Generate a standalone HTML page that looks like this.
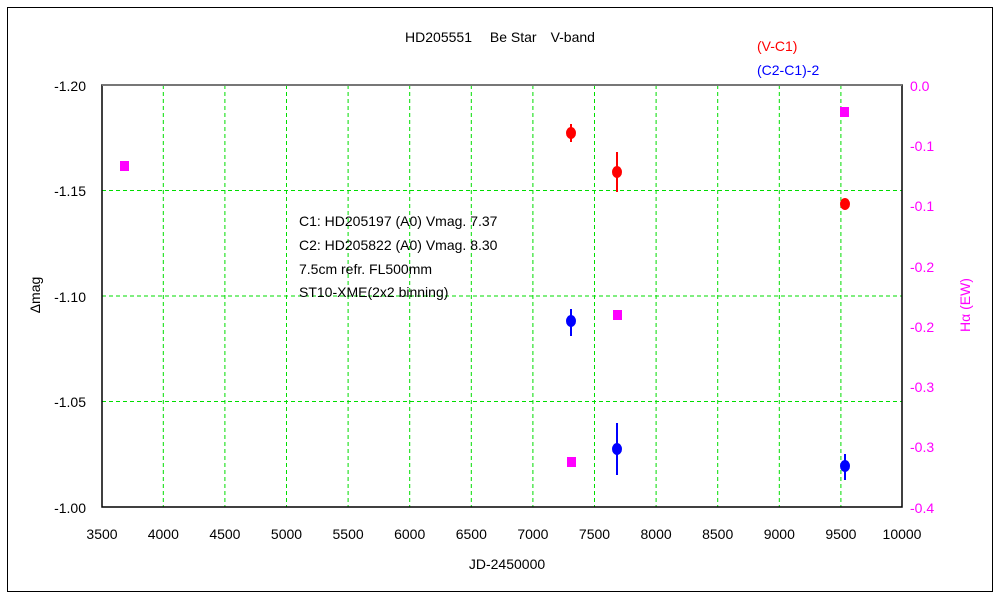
<!DOCTYPE html>
<html><head><meta charset="utf-8"><style>
body{margin:0;background:#fff}
svg text{font-family:"Liberation Sans","Noto Sans CJK JP",sans-serif;font-size:14px}
</style></head><body>
<svg width="1000" height="600" viewBox="0 0 1000 600" xmlns="http://www.w3.org/2000/svg">
<rect x="7.5" y="7.5" width="985" height="584" fill="#fff" stroke="#000" stroke-width="1"/>
<g stroke="#00dd00" stroke-dasharray="4,3" stroke-width="1">
<line x1="163.3" y1="85" x2="163.3" y2="507"/><line x1="224.9" y1="85" x2="224.9" y2="507"/>
<line x1="286.5" y1="85" x2="286.5" y2="507"/><line x1="348.1" y1="85" x2="348.1" y2="507"/>
<line x1="409.7" y1="85" x2="409.7" y2="507"/><line x1="471.3" y1="85" x2="471.3" y2="507"/>
<line x1="532.9" y1="85" x2="532.9" y2="507"/><line x1="594.5" y1="85" x2="594.5" y2="507"/>
<line x1="656.1" y1="85" x2="656.1" y2="507"/><line x1="717.7" y1="85" x2="717.7" y2="507"/>
<line x1="779.3" y1="85" x2="779.3" y2="507"/><line x1="840.9" y1="85" x2="840.9" y2="507"/>
<line x1="102" y1="190.5" x2="902" y2="190.5"/><line x1="102" y1="296" x2="902" y2="296"/>
<line x1="102" y1="401.5" x2="902" y2="401.5"/>
</g>
<rect x="102" y="85" width="800" height="422" fill="none" stroke="#000" stroke-width="1.5"/>
<line x1="102" y1="85" x2="902" y2="85" stroke="#777" stroke-width="2"/>
<g font-size="14" text-anchor="end">
<text x="86" y="91">-1.20</text><text x="86" y="196">-1.15</text><text x="86" y="302">-1.10</text>
<text x="86" y="407">-1.05</text><text x="86" y="513">-1.00</text>
</g>
<g fill="#ff00ff" text-anchor="start">
<text x="910" y="91">0.0</text><text x="910" y="151">-0.1</text><text x="910" y="211">-0.1</text>
<text x="910" y="272">-0.2</text><text x="910" y="332">-0.2</text><text x="910" y="392">-0.3</text>
<text x="910" y="452">-0.3</text><text x="910" y="513">-0.4</text>
</g>
<g text-anchor="middle">
<text x="102" y="539">3500</text><text x="163.3" y="539">4000</text><text x="224.9" y="539">4500</text>
<text x="286.5" y="539">5000</text><text x="348.1" y="539">5500</text><text x="409.7" y="539">6000</text>
<text x="471.3" y="539">6500</text><text x="532.9" y="539">7000</text><text x="594.5" y="539">7500</text>
<text x="656.1" y="539">8000</text><text x="717.7" y="539">8500</text><text x="779.3" y="539">9000</text>
<text x="840.9" y="539">9500</text><text x="902" y="539">10000</text>
<text x="507" y="569">JD-2450000</text>
<text x="500" y="42">HD205551　 Be Star　V-band</text>
</g>
<text x="40" y="295" text-anchor="middle" transform="rotate(-90 40 295)">Δmag</text>
<text x="970" y="305" text-anchor="middle" fill="#ff00ff" transform="rotate(-90 970 305)">Hα (EW)</text>
<text x="757" y="51" fill="#ff0000" font-size="16">(V-C1)</text>
<text x="757" y="75" fill="#0000ff" font-size="16">(C2-C1)-2</text>
<g font-size="14">
<text x="299" y="226">C1: HD205197 (A0) Vmag. 7.37</text>
<text x="299" y="250">C2: HD205822 (A0) Vmag. 8.30</text>
<text x="299" y="274">7.5cm refr. FL500mm</text>
<text x="299" y="297">ST10-XME(2x2 binning)</text>
</g>
<g stroke="#ff0000" stroke-width="2" fill="#ff0000">
<line x1="571" y1="124" x2="571" y2="142"/><ellipse cx="571" cy="133" rx="4" ry="5"/>
<line x1="617" y1="152" x2="617" y2="192"/><ellipse cx="617" cy="172" rx="4" ry="5"/>
<line x1="845" y1="199" x2="845" y2="208"/><ellipse cx="845" cy="204" rx="4" ry="5"/>
</g>
<g stroke="#0000ff" stroke-width="2" fill="#0000ff">
<line x1="571" y1="309" x2="571" y2="336"/><ellipse cx="571" cy="321" rx="4" ry="5"/>
<line x1="617" y1="423" x2="617" y2="475"/><ellipse cx="617" cy="449" rx="4" ry="5"/>
<line x1="845" y1="454" x2="845" y2="480"/><ellipse cx="845" cy="466" rx="4" ry="5"/>
</g>
<g fill="#ff00ff">
<rect x="120" y="161" width="9" height="10"/><rect x="567" y="457" width="9" height="10"/>
<rect x="613" y="310" width="9" height="10"/><rect x="840" y="107" width="9" height="10"/>
</g>
</svg>
</body></html>
